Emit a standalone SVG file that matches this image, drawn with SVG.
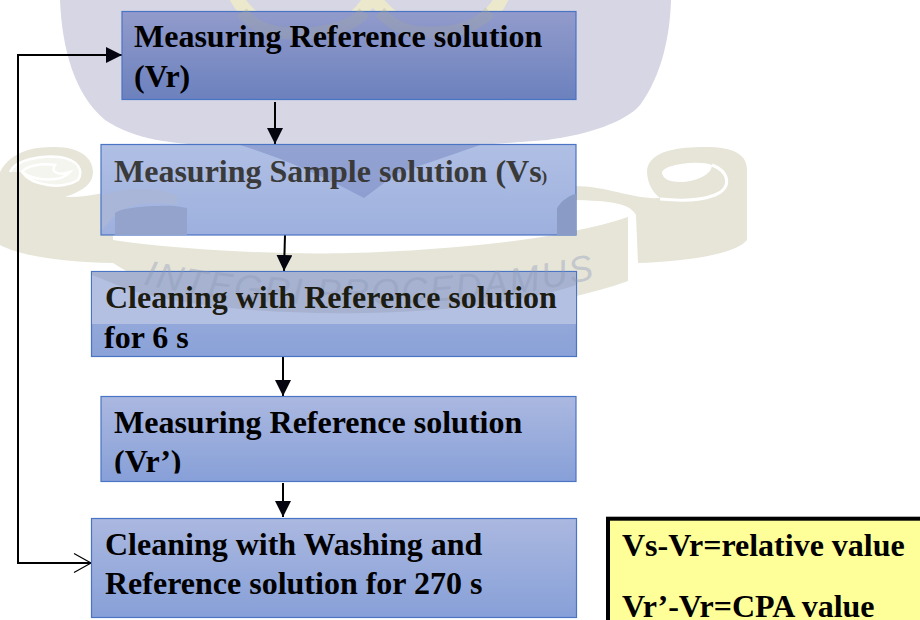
<svg xmlns="http://www.w3.org/2000/svg" width="920" height="620" viewBox="0 0 920 620">
<defs>
<linearGradient id="g1" x1="0" y1="0" x2="0" y2="1"><stop offset="0" stop-color="#929bcb"/><stop offset="1" stop-color="#6c81be"/></linearGradient>
<linearGradient id="g2" x1="0" y1="0" x2="0" y2="1"><stop offset="0" stop-color="#b0bfe4"/><stop offset="1" stop-color="#9db0de"/></linearGradient>
<linearGradient id="g3" x1="0" y1="0" x2="0" y2="1"><stop offset="0" stop-color="#abb8e0"/><stop offset="1" stop-color="#87a0d8"/></linearGradient>
<linearGradient id="g4" x1="0" y1="0" x2="0" y2="1"><stop offset="0" stop-color="#a0b0dc"/><stop offset="1" stop-color="#8aa2d8"/></linearGradient>
<clipPath id="clip3"><rect x="92" y="272" width="484" height="52"/></clipPath>
<clipPath id="clip4"><rect x="101" y="396" width="475" height="77.500"/></clipPath>
<path id="arc" d="M143 284C250 312 460 312 596 278"/>
<marker id="solid" markerUnits="userSpaceOnUse" markerWidth="16" markerHeight="16" refX="16" refY="8" orient="auto"><path d="M0 0L16 8L0 16Z" fill="#050510"/></marker>
<marker id="open" markerUnits="userSpaceOnUse" markerWidth="20" markerHeight="22" refX="18" refY="11" orient="auto"><path d="M1 1.500L18 11L1 20.500" fill="none" stroke="#000" stroke-width="1.200"/></marker>
</defs>
<style>
.n{stroke:#4a74c4;stroke-width:1.2}
.t{font-family:"Liberation Serif","Times New Roman",serif;font-weight:700;font-size:32px;fill:#000}
.c{fill:none;stroke:#000;stroke-width:2}
.w{fill:#e6e5d8}
</style>
<rect width="920" height="620" fill="#fff"/>
<g id="watermark">
<path d="M60 0C62 50 75 95 105 120C135 140 170 143 215 146L480 145L547 140C590 134 625 122 640 105C662 75 670 35 671 0Z" fill="#d6d6e4"/>
<path d="M235 -5C250 25 285 40 330 30C350 25 365 10 372 -5M372 -5C385 15 410 35 445 32C475 30 495 15 503 -5" fill="none" stroke="#ebe8cc" stroke-width="14"/>
<path class="w" d="M0 172C12 150 35 147 55 147C80 147 93 158 93 172C93 185 80 192 65 197C90 198 110 190 130 190C150 190 165 193 177 200V208C150 205 130 208 113 220V263C70 262 25 258 0 245Z"/>
<path d="M10 172C15 160 40 155 60 157C78 160 84 170 78 180C62 190 32 186 22 172C26 166 40 163 55 165C50 172 58 176 70 172C62 182 35 182 22 172" fill="#fff" fill-opacity=".6" stroke="#fff" stroke-width="2.500"/>
<path d="M647 170C650 150 680 147 705 147C735 147 747 155 747 170V240C735 255 680 262 638 263L636 215C630 203 610 200 560 200V187C600 182 630 200 660 198C650 190 647 180 647 170Z" class="w"/>
<path d="M662 172C665 164 700 160 712 165C712 175 695 182 680 182C668 182 662 178 662 172Z" fill="#fff"/>
<path d="M712 165C730 172 732 188 715 195C700 201 680 201 660 199" fill="none" stroke="#fff" stroke-width="3"/>
<path class="w" d="M113 240C180 250 280 255 350 253C450 250 560 240 628 217V281C560 305 470 318 350 317C250 316 170 300 113 263Z"/>
</g>
<g id="connectors">
<path class="c" d="M275 102V144" marker-end="url(#solid)"/>
<path class="c" d="M285 235L284 271" marker-end="url(#solid)"/>
<path class="c" d="M283 357V396" marker-end="url(#solid)"/>
<path class="c" d="M283 483V517" marker-end="url(#solid)"/>
<path class="c" d="M18 300V55H122" marker-end="url(#solid)"/>
<path class="c" d="M18 300V563H91" marker-end="url(#open)"/>
</g>
<g id="node1"><rect class="n" x="122" y="11.500" width="454" height="88" fill="url(#g1)"/><path d="M242 12C255 30 285 40 330 30C350 25 358 20 364 12M380 12C395 28 410 35 445 32C465 30 480 22 490 12" fill="none" stroke="#a6a89f" stroke-width="12" opacity=".3"/><text class="t" x="134" y="47">Measuring Reference solution</text><text class="t" x="134" y="87">(Vr)</text></g>
<g id="node2"><rect class="n" x="101" y="144.500" width="475" height="90.500" fill="url(#g2)"/><path d="M240 145C290 160 340 185 364 198L396 174L480 145Z" fill="#7a8ac2" opacity=".55"/><path d="M102 195C130 186 160 188 177 195V205C150 200 125 205 115 215L102 230Z" fill="#a9b6d8"/><path d="M115 235V213C120 208 150 205 175 206L187 208V235Z" fill="#93a3cc"/><path d="M557 235V208C562 200 570 195 576 194V235Z" fill="#8a9cc6"/><text class="t" x="114" y="182" style="fill:#3a3a3a">Measuring Sample solution (Vs<tspan font-size="17">)</tspan></text></g>
<g id="node3"><rect class="n" x="91.500" y="271.500" width="485" height="85" fill="url(#g4)"/><rect x="92" y="272" width="484" height="52" fill="#b4c0e2"/><g clip-path="url(#clip3)"><path d="M92 272H576V285C480 318 250 325 130 290L92 275Z" fill="#9aa5bf" opacity=".55"/></g></g>
<text id="motto" font-family="Liberation Sans,sans-serif" font-style="italic" font-size="36" fill="#8d98b8" fill-opacity=".4" textLength="455"><textPath href="#arc">INTEGRI PROCEDAMUS</textPath></text>
<g id="node3-text"><text class="t" x="105" y="308" style="fill:#1c1c12">Cleaning with Reference solution</text><text class="t" x="104" y="348">for 6 s</text></g>
<g id="node4"><rect class="n" x="101" y="396.500" width="475" height="85" fill="url(#g3)"/><text class="t" x="114" y="433">Measuring Reference solution</text><text class="t" x="114" y="472" clip-path="url(#clip4)">(Vr’)</text></g>
<g id="node5"><rect class="n" x="91.500" y="518.500" width="485" height="99" fill="url(#g3)"/><text class="t" x="105" y="555">Cleaning with Washing and</text><text class="t" x="105" y="594">Reference solution for 270 s</text></g>
<g id="note"><rect x="608" y="518.700" width="320" height="110" fill="#ffff99" stroke="#000" stroke-width="4"/><text class="t" x="622" y="556">Vs-Vr=relative value</text><text class="t" x="622" y="617">Vr’-Vr=CPA value</text></g>
</svg>
